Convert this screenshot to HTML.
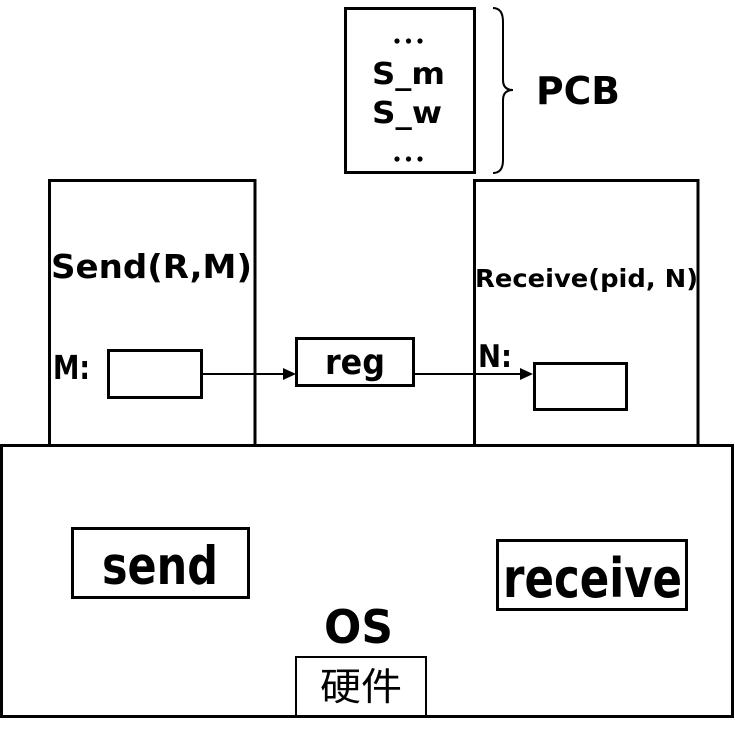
<!DOCTYPE html>
<html>
<head>
<meta charset="utf-8">
<style>
  html, body { margin: 0; padding: 0; background: #fff; }
  svg { display: block; }
  .b { font-family: "DejaVu Sans", "Liberation Sans", sans-serif; font-weight: bold; fill: #000; }
  .cjk { font-family: "Liberation Sans", "Noto Sans CJK SC", sans-serif; font-weight: normal; fill: #000; }
</style>
</head>
<body>
<svg width="735" height="737" viewBox="0 0 735 737" xmlns="http://www.w3.org/2000/svg">
  <rect x="0" y="0" width="735" height="737" fill="#fff"/>

  <!-- PCB box -->
  <rect x="345.5" y="8.5" width="129" height="164" fill="none" stroke="#000" stroke-width="3"/>
  <circle cx="397" cy="41" r="2.6" fill="#000"/>
  <circle cx="408.5" cy="41" r="2.6" fill="#000"/>
  <circle cx="420" cy="41" r="2.6" fill="#000"/>
  <text class="b" x="372" y="84" font-size="30" textLength="73" lengthAdjust="spacingAndGlyphs">S_m</text>
  <text class="b" x="372" y="123" font-size="30" textLength="70" lengthAdjust="spacingAndGlyphs">S_w</text>
  <circle cx="397" cy="159" r="2.6" fill="#000"/>
  <circle cx="408.5" cy="159" r="2.6" fill="#000"/>
  <circle cx="420" cy="159" r="2.6" fill="#000"/>

  <!-- brace -->
  <path d="M493,8 Q503,8 503,22 L503,80 Q503,90 513,90 Q503,90 503,100 L503,160 Q503,173 493,173" fill="none" stroke="#000" stroke-width="2"/>
  <text class="b" x="536" y="104" font-size="38" textLength="84" lengthAdjust="spacingAndGlyphs">PCB</text>

  <!-- left process box -->
  <rect x="49.5" y="180.5" width="205.5" height="265" fill="none" stroke="#000" stroke-width="3"/>
  <text class="b" x="51" y="278" font-size="33" textLength="201" lengthAdjust="spacingAndGlyphs">Send(R,M)</text>
  <text class="b" x="53" y="379" font-size="33" textLength="37" lengthAdjust="spacingAndGlyphs">M:</text>
  <rect x="108.5" y="350.5" width="93" height="47" fill="none" stroke="#000" stroke-width="3"/>

  <!-- right process box -->
  <rect x="474.5" y="180.5" width="223.5" height="265" fill="none" stroke="#000" stroke-width="3"/>
  <text class="b" x="475" y="287" font-size="25" textLength="223" lengthAdjust="spacingAndGlyphs">Receive(pid, N)</text>
  <text class="b" x="478" y="367" font-size="31" textLength="34" lengthAdjust="spacingAndGlyphs">N:</text>
  <rect x="534.5" y="363.5" width="92" height="46" fill="none" stroke="#000" stroke-width="3"/>

  <!-- reg box -->
  <rect x="296.5" y="338.5" width="117" height="47" fill="none" stroke="#000" stroke-width="3"/>
  <text class="b" x="325" y="374" font-size="35" textLength="60" lengthAdjust="spacingAndGlyphs">reg</text>

  <!-- arrows -->
  <line x1="203" y1="374" x2="285" y2="374" stroke="#000" stroke-width="2"/>
  <polygon points="283,368 296,374 283,380" fill="#000"/>
  <line x1="415" y1="374" x2="522" y2="374" stroke="#000" stroke-width="2"/>
  <polygon points="520,368 533,374 520,380" fill="#000"/>

  <!-- OS box -->
  <rect x="1.5" y="445.5" width="731" height="271" fill="none" stroke="#000" stroke-width="3"/>
  <rect x="72.5" y="528.5" width="176" height="69" fill="none" stroke="#000" stroke-width="3"/>
  <text class="b" x="102" y="584" font-size="53" textLength="116" lengthAdjust="spacingAndGlyphs">send</text>
  <rect x="497.5" y="540.5" width="189" height="69" fill="none" stroke="#000" stroke-width="3"/>
  <text class="b" x="503" y="597" font-size="54" textLength="179" lengthAdjust="spacingAndGlyphs">receive</text>
  <text class="b" x="324" y="643" font-size="46" textLength="69" lengthAdjust="spacingAndGlyphs">OS</text>

  <!-- hardware box -->
  <rect x="296" y="657" width="130" height="60" fill="none" stroke="#000" stroke-width="2"/>
  <text class="cjk" x="320" y="700" font-size="38" textLength="82" lengthAdjust="spacingAndGlyphs">硬件</text>
</svg>
</body>
</html>
